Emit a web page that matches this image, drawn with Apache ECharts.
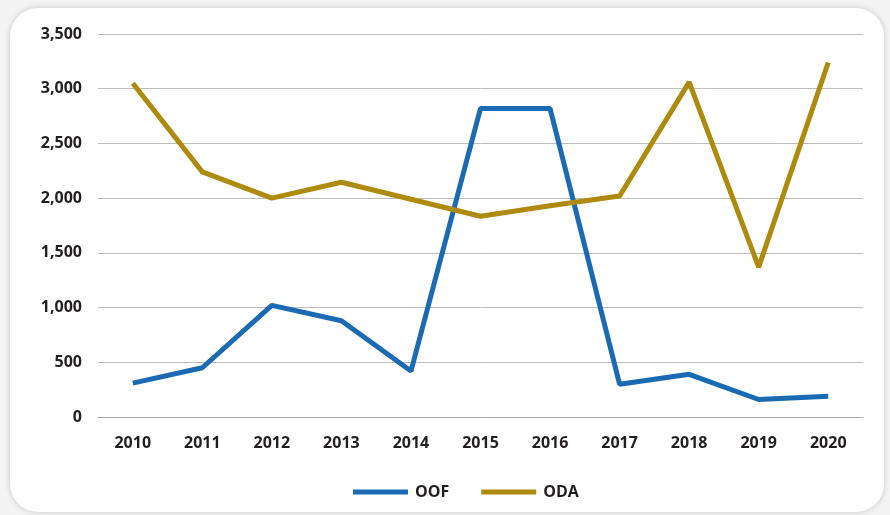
<!DOCTYPE html>
<html>
<head>
<meta charset="utf-8">
<script src="https://cdn.jsdelivr.net/npm/echarts@6/dist/echarts.min.js"></script>
<style>
    html, body { margin: 0; padding: 0; background: #f4f4f4; }
    #card {
        position: absolute; left: 10px; top: 8px; width: 874px; height: 504px;
        background: #fff; border-radius: 28px;
        box-shadow: 0 0 6px rgba(0, 0, 0, 0.18);
    }
    #chart { position: absolute; left: 0; top: 0; width: 890px; height: 515px; }
</style>
</head>
<body>
<div id="card"></div>
<div id="chart"></div>
<script>
let years = ['2010', '2011', '2012', '2013', '2014', '2015', '2016', '2017', '2018', '2019', '2020'];
let oof = [310, 450, 1020, 880, 420, 2820, 2820, 300, 390, 160, 190];
let oda = [3050, 2240, 2000, 2145, 1990, 1835, 1930, 2020, 3060, 1370, 3240];

let myChart = echarts.init(document.getElementById('chart'));

let textFont = {
    color: '#231f20',
    fontFamily: 'Open Sans',
    fontWeight: 'bold',
    fontSize: 16
};

let option = {
    animation: false,
    grid: {
        left: 98,
        right: 27,
        top: 34,
        bottom: 98
    },
    legend: {
        bottom: 10,
        left: 348,
        itemWidth: 55,
        itemHeight: 5,
        itemGap: 32,
        icon: 'rect',
        textStyle: Object.assign({ padding: [0, 0, 0, 2] }, textFont),
        data: ['OOF', 'ODA']
    },
    xAxis: {
        type: 'category',
        data: years,
        axisLine: { lineStyle: { color: '#a8a8a8', width: 1 } },
        axisTick: { show: false },
        axisLabel: Object.assign({ margin: 18 }, textFont)
    },
    yAxis: {
        type: 'value',
        min: 0,
        max: 3500,
        interval: 500,
        axisLine: { show: false },
        axisTick: { show: false },
        splitLine: { lineStyle: { color: '#bdbdbd', width: 1 } },
        axisLabel: Object.assign({
            margin: 16,
            formatter: function (v) {
                return v.toLocaleString('en-US');
            }
        }, textFont)
    },
    series: [
        {
            name: 'OOF',
            type: 'line',
            data: oof,
            symbol: 'none',
            color: '#1b6ab4',
            lineStyle: { width: 5, color: '#1b6ab4' }
        },
        {
            name: 'ODA',
            type: 'line',
            data: oda,
            symbol: 'none',
            color: '#ae8a0e',
            lineStyle: { width: 5, color: '#ae8a0e' }
        }
    ]
};
myChart.setOption(option);
</script>
</body>
</html>
